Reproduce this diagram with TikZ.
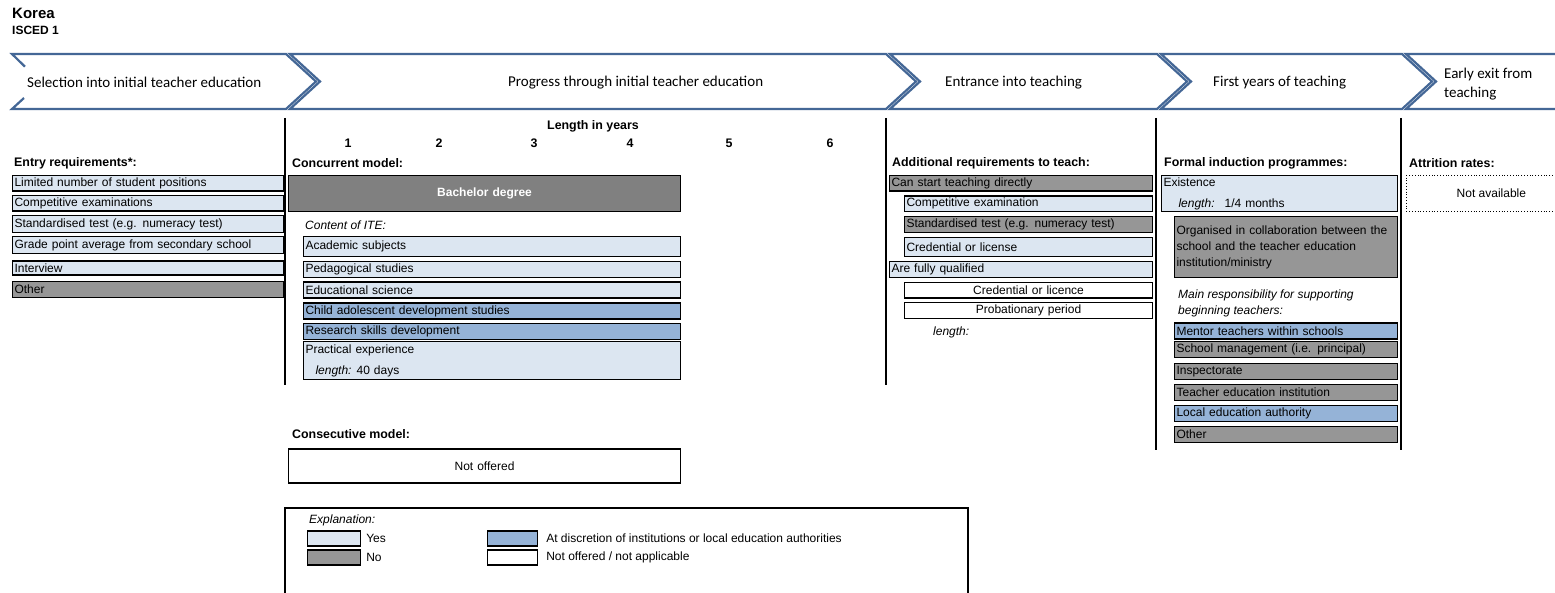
\documentclass[tikz,border=0pt]{standalone}
\usepackage{fontspec}
\setmainfont{Liberation Sans}
\newfontfamily\calibri{Carlito}
\usetikzlibrary{positioning}
\definecolor{itelight}{RGB}{220,230,241}
\definecolor{iteblue}{RGB}{149,179,215}
\definecolor{itegray}{RGB}{150,150,150}
\definecolor{itedark}{RGB}{128,128,128}
\definecolor{bannerblue}{RGB}{68,103,150}

\tikzset{
  cell/.style={draw=black, line width=1.1pt, anchor=west, inner xsep=2pt, inner ysep=0pt, align=left, font=\fontsize{12}{14}\selectfont},
  yescell/.style={cell, fill=itelight},
  nocell/.style={cell, fill=itegray},
  disccell/.style={cell, fill=iteblue},
  nacell/.style={cell, fill=white, align=center},
  entrycol/.style={text width=267pt, minimum height=15.5pt},
  itecol/.style={text width=373pt, minimum height=16pt},
  addcol/.style={text width=259pt, minimum height=15.5pt},
  addsub/.style={text width=244pt, minimum height=15.5pt},
  indcol/.style={text width=219pt, minimum height=16pt},
  heading/.style={anchor=west, inner sep=0pt, font=\fontsize{12.4}{14}\selectfont\bfseries},
  note/.style={anchor=west, inner sep=0pt, align=left, font=\fontsize{12}{16}\selectfont\itshape},
  plain/.style={anchor=west, inner sep=0pt, font=\fontsize{12}{14}\selectfont},
  banner/.style={draw=bannerblue, line width=2.2pt, line join=miter},
  phase/.style={anchor=west, inner sep=0pt, align=left, font=\calibri\fontsize{15}{19}\selectfont},
  sep/.style={line width=1.1pt},
}

\begin{document}
\begin{tikzpicture}[x=1pt, y=-1pt]
  \clip (0,0) rectangle (1555,593);
  \fill[white] (0,0) rectangle (1555,593);

  \node[anchor=west, inner sep=0pt, font=\fontsize{15}{17}\selectfont\bfseries] (country) at (12,13) {Korea};
  \node[anchor=west, inner sep=0pt, font=\fontsize{12}{14}\selectfont\bfseries] (level) at (12,30) {ISCED 1};

  % phase banner
  \draw[banner] (25,66.7) -- (12,54) -- (286,54) -- (316,81.5) -- (286,109) -- (12,109) -- (24,98);
  \draw[banner] (290,54) -- (886,54) -- (916,81.5) -- (886,109) -- (290,109) -- (320,81.5) -- cycle;
  \draw[banner] (890,54) -- (1157,54) -- (1187,81.5) -- (1157,109) -- (890,109) -- (920,81.5) -- cycle;
  \draw[banner] (1161,54) -- (1402,54) -- (1432,81.5) -- (1402,109) -- (1161,109) -- (1191,81.5) -- cycle;
  \draw[banner] (1560,54) -- (1406,54) -- (1436,81.5) -- (1406,109) -- (1560,109);
  \node[phase] (selection) at (27,82) {Selection into initial teacher education};
  \node[phase] (progress) at (508,83) {Progress through initial teacher education};
  \node[phase] (entrance) at (945,83) {Entrance into teaching};
  \node[phase] (firstyears) at (1213,83) {First years of teaching};
  \node[phase] (earlyexit) at (1444,84.5) {Early exit from\\teaching};

  \draw[sep] (285,118) -- (285,385);
  \draw[sep] (886,118) -- (886,385);
  \draw[sep] (1156,118) -- (1156,450);
  \draw[sep] (1401,118) -- (1401,450);

  % selection
  \node[heading] (entryhead) at (14,163) {Entry requirements*:};
  \node[yescell, entrycol] (limited) at (12,183.3) {Limited number of student positions};
  \node[yescell, entrycol] (compexam) at (12,203.3) {Competitive examinations};
  \node[yescell, entrycol, minimum height=16.7pt] (stdtest) at (12,224.3) {Standardised test (e.g. numeracy test)};
  \node[yescell, entrycol, minimum height=16.7pt] (gpa) at (12,245) {Grade point average from secondary school};
  \node[yescell, entrycol, minimum height=14pt] (interview) at (12,268) {Interview};
  \node[nocell, entrycol] (entryother) at (12,289.5) {Other};

  % progress
  \node[heading, anchor=center] (lengthhead) at (593,126) {Length in years};
  \foreach \yr/\xx in {1/348,2/439,3/534,4/630,5/729,6/830}
    \node[heading, anchor=base] (yr\yr) at (\xx,147.3) {\yr};
  \node[heading] (concurrent) at (292,163) {Concurrent model:};
  \node[cell, fill=itedark, text=white, align=center, text width=388pt, minimum height=36pt, font=\fontsize{12}{14}\selectfont\bfseries] (bachelor) at (288,193.7) {Bachelor degree};
  \node[note] (content) at (305,225.3) {Content of ITE:};
  \node[yescell, itecol, minimum height=19.7pt] (academic) at (303,246.8) {Academic subjects};
  \node[yescell, itecol] (pedagogical) at (303,269.5) {Pedagogical studies};
  \node[yescell, itecol] (edscience) at (303,290) {Educational science};
  \node[disccell, itecol] (child) at (303,311) {Child adolescent development studies};
  \node[disccell, itecol] (research) at (303,331.2) {Research skills development};
  \node[yescell, itecol, minimum height=37.6pt] (practical) at (303,360.5) {Practical experience\\[7pt]\hspace*{10pt}\textit{length:}\hspace{5pt}40 days};
  \node[heading] (consecutive) at (292,434.3) {Consecutive model:};
  \node[nacell, text width=388pt, minimum height=34pt] (notoffered) at (288,466) {Not offered};

  % entrance
  \node[heading] (addhead) at (892,163) {Additional requirements to teach:};
  \node[nocell, addcol] (direct) at (889,183.3) {Can start teaching directly};
  \node[yescell, addsub] (compexam2) at (904,203.8) {Competitive examination};
  \node[nocell, addsub] (stdtest2) at (904,224.5) {Standardised test (e.g. numeracy test)};
  \node[yescell, addsub, minimum height=19.4pt] (credential) at (904,247) {Credential or license};
  \node[yescell, addcol] (qualified) at (889,269.5) {Are fully qualified};
  \node[nacell, addsub] (licence) at (904,290.3) {Credential or licence};
  \node[nacell, addsub] (probation) at (904,310.5) {Probationary period};
  \node[note] (problength) at (933,332.7) {length:};

  % first years
  \node[heading] (indhead) at (1164,163) {Formal induction programmes:};
  \node[yescell, text width=232pt, minimum height=36pt] (existence) at (1161,193.7) {Existence\\[7pt]\hspace*{15pt}\textit{length:}\hspace{10pt}1/4 months};
  \node[nocell, indcol, minimum height=60.6pt, font=\fontsize{12}{16}\selectfont] (organised) at (1174,247) {Organised in collaboration between the\\school and the teacher education\\institution/ministry};
  \node[note] (mainresp) at (1178,303.7) {Main responsibility for supporting\\beginning teachers:};
  \node[disccell, indcol] (mentor) at (1174,331) {Mentor teachers within schools};
  \node[nocell, indcol] (management) at (1174,349.7) {School management (i.e. principal)};
  \node[nocell, indcol] (inspectorate) at (1174,371.3) {Inspectorate};
  \node[nocell, indcol] (teachered) at (1174,392.2) {Teacher education institution};
  \node[disccell, indcol] (localauth) at (1174,413.5) {Local education authority};
  \node[nocell, indcol] (indother) at (1174,434.7) {Other};

  % early exit
  \node[heading] (attrition) at (1409,163) {Attrition rates:};
  \node[cell, draw=black, line width=0.8pt, dotted, align=center, minimum width=170pt, minimum height=36pt] (notavail) at (1406,193.7) {Not available};

  % explanation
  \draw[sep] (285,600) -- (285,508) -- (968,508) -- (968,600);
  \node[note] (explanation) at (309,520) {Explanation:};
  \node[yescell, minimum width=53pt, minimum height=15pt] (yesswatch) at (307,538.5) {};
  \node[plain, right=5pt of yesswatch] (yeslabel) {Yes};
  \node[nocell, minimum width=53pt, minimum height=15pt] (noswatch) at (307,557.5) {};
  \node[plain, right=5pt of noswatch] (nolabel) {No};
  \node[disccell, minimum width=50pt, minimum height=15pt] (discswatch) at (487,538.5) {};
  \node[plain, right=8pt of discswatch] (disclabel) {At discretion of institutions or local education authorities};
  \node[nacell, minimum width=50pt, minimum height=15pt] (naswatch) at (487,557.5) {};
  \node[plain, right=8pt of naswatch] (nalabel) {Not offered / not applicable};
\end{tikzpicture}
\end{document}
